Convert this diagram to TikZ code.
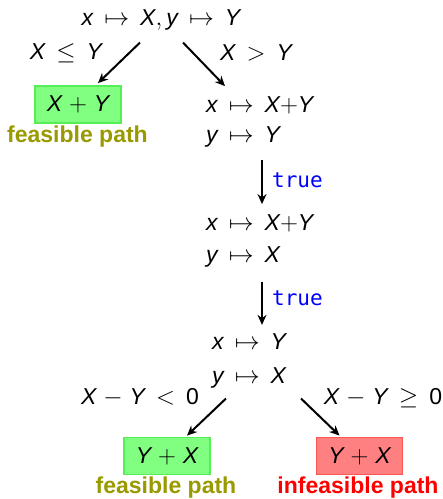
\documentclass[tikz,border=0pt]{standalone}
\usepackage{fontspec}
\setmainfont{Liberation Sans}
\setmonofont{DejaVu Sans Mono}
\usetikzlibrary{arrows.meta,calc}
\definecolor{boxgreen}{HTML}{80FF80}
\definecolor{boxgreenline}{HTML}{55EE55}
\definecolor{boxred}{HTML}{FF8080}
\definecolor{boxredline}{HTML}{FF5555}
\definecolor{patholive}{HTML}{999900}
\newcommand{\vv}[1]{\textit{#1}}
\thickmuskip=8mu plus 2mu
\medmuskip=5mu plus 2mu
\begin{document}
\begin{tikzpicture}[x=1pt,y=-1pt,
  every node/.style={font=\fontsize{23}{27}\selectfont, inner sep=0pt},
  txt/.style={},
  line/.style={anchor=west},
  arr/.style={-{Stealth[length=10pt,width=9pt]}, line width=2pt},
  okbox/.style={draw=boxgreenline, fill=boxgreen, line width=1.8pt, minimum width=86pt, minimum height=37pt},
  badbox/.style={draw=boxredline, fill=boxred, line width=1.8pt, minimum width=86pt, minimum height=37pt},
  oklab/.style={text=patholive, font=\fontsize{23}{27}\selectfont\bfseries},
  badlab/.style={text=red, font=\fontsize{23}{27}\selectfont\bfseries},
  cond/.style={text=blue, font=\fontsize{21}{25}\selectfont\ttfamily}
]
\useasboundingbox (0,0) rectangle (443,499);

% top state
\node[txt] (top) at (161,20) {$\vv{x}\mapsto\vv{X}, \vv{y}\mapsto\vv{Y}$};
\node[txt] (c1) at (66,53) {$\vv{X}\le\vv{Y}$};
\node[txt] (c2) at (256,53) {$\vv{X}>\vv{Y}$};

% left leaf
\node[okbox] (b1) at (78,104.5) {$\vv{X}+\vv{Y}$};
\node[oklab] (l1) at (77.5,137) {feasible path};

% state 1
\node[line] (s1a) at (206,105) {$\vv{x}\mapsto\vv{X}{+}\vv{Y}$};
\node[line] (s1b) at (206,137) {$\vv{y}\mapsto\vv{Y}$};

% state 2
\node[line] (s2a) at (206,223) {$\vv{x}\mapsto\vv{X}{+}\vv{Y}$};
\node[line] (s2b) at (206,257) {$\vv{y}\mapsto\vv{X}$};

% state 3
\node[line] (s3a) at (212,342) {$\vv{x}\mapsto\vv{Y}$};
\node[line] (s3b) at (212,378) {$\vv{y}\mapsto\vv{X}$};

\coordinate (vx) at (262,0);
\node[cond] (t1) at (297.5,180) {true};
\node[cond] (t2) at (297.5,298) {true};

\node[txt] (c3) at (140,398) {$\vv{X}-\vv{Y}<\textup{0}$};
\node[txt] (c4) at (383,398) {$\vv{X}-\vv{Y}\ge\textup{0}$};

\node[okbox] (b2) at (167,456) {$\vv{Y}+\vv{X}$};
\node[badbox] (b3) at (359.5,456) {$\vv{Y}+\vv{X}$};
\node[oklab] (l2) at (166,488) {feasible path};
\node[badlab] (l3) at (358,488) {infeasible path};

% connectors
\draw[arr] ($(top.south)+(-21,12)$) -- ($(b1.north)+(20,-2)$);
\draw[arr] ($(top.south)+(22,12)$) -- ($(s1a.north west)+(19,-10)$);
\draw[arr] ($(s1b.south -| vx)+(0,12)$) -- ($(s2a.north -| vx)+(0,-10)$);
\draw[arr] ($(s2b.south -| vx)+(0,14)$) -- ($(s3a.north -| vx)+(0,-9)$);
\draw[arr] ($(s3b.south west)+(14,10)$) -- ($(b2.north)+(20,-1)$);
\draw[arr] ($(s3b.south west)+(89,10)$) -- ($(b3.north)+(-20,-1)$);
\end{tikzpicture}
\end{document}
